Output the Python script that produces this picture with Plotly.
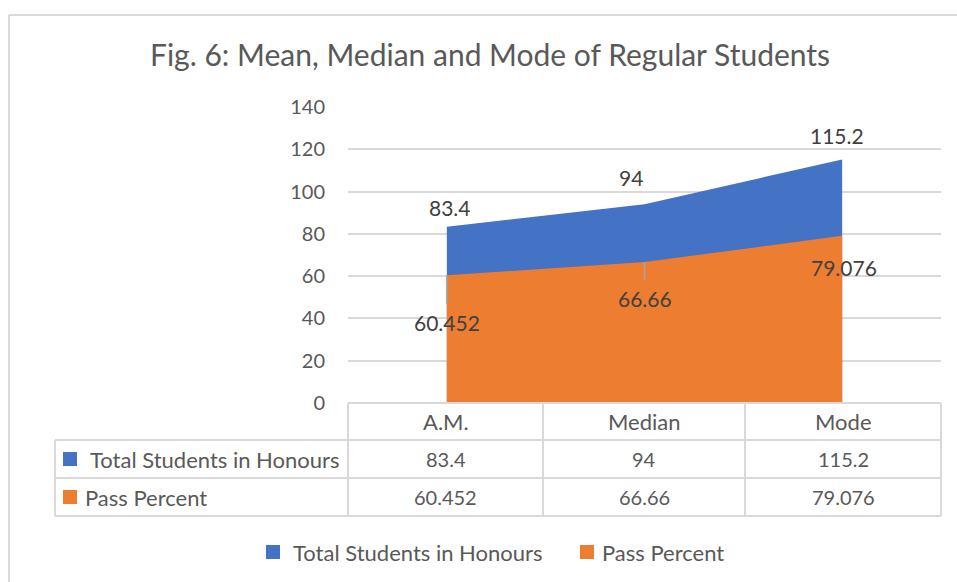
import plotly.graph_objects as go

categories = ["A.M.", "Median", "Mode"]
total_honours = [83.4, 94, 115.2]
pass_percent = [60.452, 66.66, 79.076]
series_names = ["Total Students in Honours", "Pass Percent"]
y_ticks = [0, 20, 40, 60, 80, 100, 120, 140]

W, H = 957, 582
BLUE = "#4472C4"
ORANGE = "#ED7D31"
GRID = "#D9D9D9"
TXT = "#595959"
LBL = "#404040"
FONT = "Lato, Carlito, Calibri, sans-serif"

def fx(p):
    return p / W

def fy(p):
    return 1 - p / H

PL, PR, PT, PB = 348, 941, 107, 403

fig = go.Figure()
xs = list(range(len(categories)))
fig.add_trace(go.Scatter(x=xs, y=total_honours, mode="lines",
                         line=dict(width=0, color=BLUE), fill="tozeroy", fillcolor=BLUE,
                         name=series_names[0], hoverinfo="skip"))
fig.add_trace(go.Scatter(x=xs, y=pass_percent, mode="lines",
                         line=dict(width=0, color=ORANGE), fill="tozeroy", fillcolor=ORANGE,
                         name=series_names[1], hoverinfo="skip"))

annotations = []
shapes = []

def note(x, y, text, size, color=TXT, xanchor="center", **kw):
    d = dict(x=x, y=y, text=text, showarrow=False, xanchor=xanchor, yanchor="middle",
             font=dict(size=size, color=color, family=FONT))
    d.update(kw)
    annotations.append(d)

# data labels
blue_off = [(3, 19), (-14, 27), (-5, 24)]
for i, v in enumerate(total_honours):
    dx, dy = blue_off[i]
    note(i, v, f"{v:g}", 21, LBL, xref="x", yref="y", xshift=dx, yshift=dy)
orange_off = [(0, 47, True), (0, 36, True), (2, 32, False)]
for i, v in enumerate(pass_percent):
    dx, dy, arrow = orange_off[i]
    if arrow:
        annotations.append(dict(x=i, y=v, xref="x", yref="y", text=f"{v:g}", showarrow=True,
                                ax=dx, ay=dy, arrowhead=0, arrowwidth=1.5, arrowcolor="#A6A6A6",
                                xanchor="center", yanchor="middle", borderpad=5,
                                font=dict(size=21, color=LBL, family=FONT)))
    else:
        note(i, v, f"{v:g}", 21, LBL, xref="x", yref="y", xshift=dx, yshift=-dy)

# outer frame
shapes.append(dict(type="line", xref="paper", yref="paper", x0=fx(9), x1=1, y0=fy(15), y1=fy(15),
                   line=dict(color=GRID, width=2)))
shapes.append(dict(type="line", xref="paper", yref="paper", x0=fx(9), x1=fx(9), y0=fy(15), y1=0,
                   line=dict(color=GRID, width=2)))

# data table
col_edges = [PL, 543, 745, PR]
row_edges = [PB, 440, 478, 516]
for k, yy in enumerate(row_edges):
    x0 = PL if k == 0 else 55
    shapes.append(dict(type="line", xref="paper", yref="paper", x0=fx(x0), x1=fx(PR),
                       y0=fy(yy), y1=fy(yy), line=dict(color=GRID, width=2)))
for xx in col_edges:
    shapes.append(dict(type="line", xref="paper", yref="paper", x0=fx(xx), x1=fx(xx),
                       y0=fy(PB), y1=fy(row_edges[-1]), line=dict(color=GRID, width=2)))
shapes.append(dict(type="line", xref="paper", yref="paper", x0=fx(55), x1=fx(55),
                   y0=fy(row_edges[1]), y1=fy(row_edges[-1]), line=dict(color=GRID, width=2)))

centers = [(col_edges[j] + col_edges[j + 1]) / 2 for j in range(3)]
row_mid = [(row_edges[r] + row_edges[r + 1]) / 2 for r in range(3)]
for j, c in enumerate(categories):
    note(fx(centers[j]), fy(row_mid[0]), c, 22, xref="paper", yref="paper")
for r, vals in enumerate([total_honours, pass_percent]):
    for j, v in enumerate(vals):
        note(fx(centers[j]), fy(row_mid[r + 1]), f"{v:g}", 20, xref="paper", yref="paper")

# row headers with colour keys
key_colors = [BLUE, ORANGE]
text_x = [88, 83]
for r in range(2):
    ym = row_mid[r + 1]
    shapes.append(dict(type="rect", xref="paper", yref="paper", x0=fx(63), x1=fx(77),
                       y0=fy(ym + 7), y1=fy(ym - 7), fillcolor=key_colors[r], line=dict(width=0)))
    note(fx(text_x[r]), fy(ym), series_names[r], 22, xanchor="left", xref="paper", yref="paper")

# bottom legend
leg = [(266, 291), (580, 600)]
for r in range(2):
    sx, tx = leg[r]
    shapes.append(dict(type="rect", xref="paper", yref="paper", x0=fx(sx), x1=fx(sx + 14),
                       y0=fy(559), y1=fy(545), fillcolor=key_colors[r], line=dict(width=0)))
    note(fx(tx), fy(552), series_names[r], 22, xanchor="left", xref="paper", yref="paper")

# title
note(fx(490), fy(54), "Fig. 6: Mean, Median and Mode of Regular Students", 30,
     xref="paper", yref="paper")

fig.update_layout(
    width=W, height=H, margin=dict(l=0, r=0, t=0, b=0, pad=0, autoexpand=False),
    paper_bgcolor="white", plot_bgcolor="white", showlegend=False,
    xaxis=dict(domain=[fx(PL), fx(PR)], range=[-0.5, 2.5], showticklabels=False,
               showgrid=False, zeroline=False, automargin=False),
    yaxis=dict(domain=[fy(PB), fy(PT)], range=[0, 140], tickvals=y_ticks,
               showgrid=True, gridcolor=GRID, gridwidth=2, zeroline=False, automargin=False,
               ticklabelstandoff=22, tickfont=dict(size=20, color=TXT, family=FONT)),
    shapes=shapes, annotations=annotations,
)

fig.write_html("out.html", config={"displayModeBar": False},
               post_script="document.body.style.margin='0px';document.documentElement.style.overflow='hidden';")
